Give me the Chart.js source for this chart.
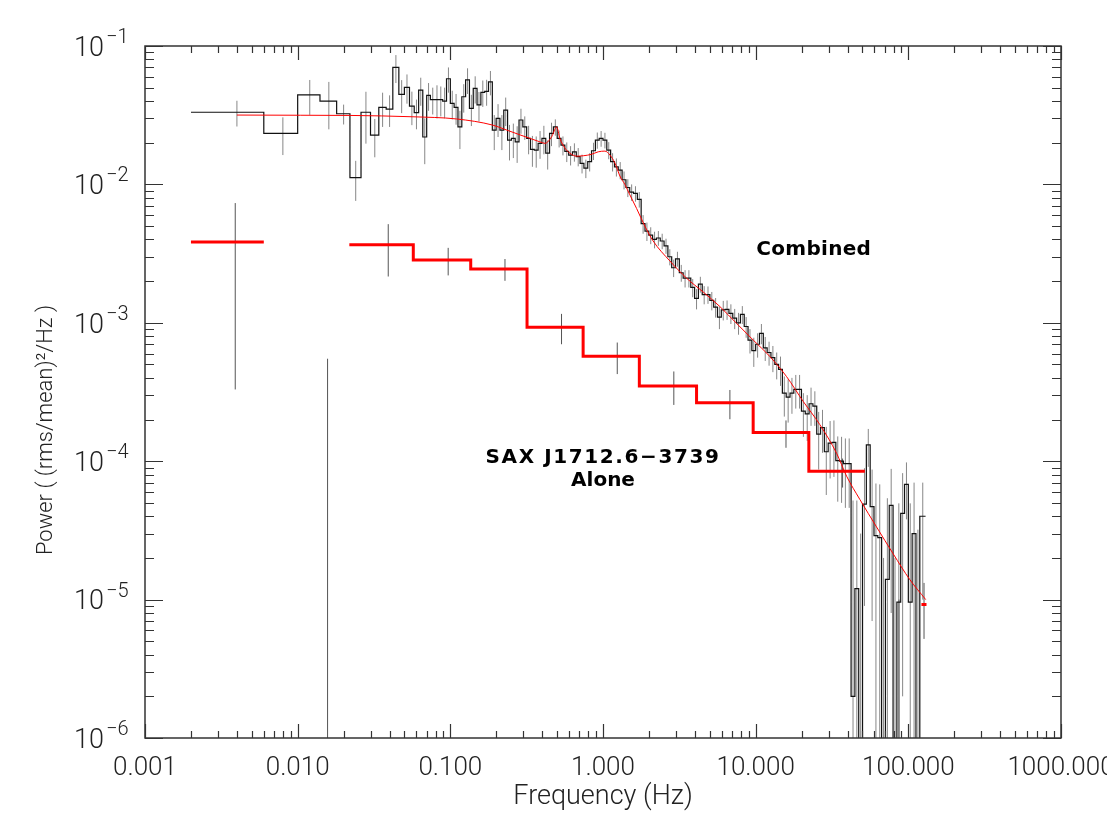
<!DOCTYPE html>
<html>
<head>
<meta charset="utf-8">
<title>SAX J1712.6-3739 power spectrum</title>
<script src="https://cdn.jsdelivr.net/npm/chart.js@4.4.1/dist/chart.umd.min.js"></script>
<style>
  html, body { margin: 0; padding: 0; background: #fff; }
  #chart { display: block; }
</style>
</head>
<body>
<canvas id="chart" width="1107" height="830"></canvas>
<script>
// combined spectrum: 0.004 Hz linear bins up to ~0.08 Hz, log rebinned above
const combinedEdges = [
    0.002, 0.006, 0.010, 0.014, 0.018, 0.022, 0.026, 0.030, 0.034, 0.038,
    0.042, 0.046, 0.050, 0.054, 0.058, 0.062, 0.066, 0.070, 0.074,
    0.0794, 0.0841, 0.0891, 0.0944,
    0.1000, 0.1059, 0.1122, 0.1189, 0.1259, 0.1334, 0.1413, 0.1496, 0.1585, 0.1679,
    0.1778, 0.1884, 0.1995, 0.2113, 0.2239, 0.2371, 0.2512, 0.2661, 0.2818, 0.2985,
    0.3162, 0.3350, 0.3548, 0.3758, 0.3981, 0.4217, 0.4467, 0.4732, 0.5012, 0.5309,
    0.5623, 0.5957, 0.6310, 0.6683, 0.7079, 0.7499, 0.7943, 0.8414, 0.8913, 0.9441,
    1.000, 1.059, 1.122, 1.189, 1.259, 1.334, 1.413, 1.496, 1.585, 1.679,
    1.778, 1.884, 1.995, 2.113, 2.239, 2.371, 2.512, 2.661, 2.818, 2.985,
    3.162, 3.350, 3.548, 3.758, 3.981, 4.217, 4.467, 4.732, 5.012, 5.309,
    5.623, 5.957, 6.310, 6.683, 7.079, 7.499, 7.943, 8.414, 8.913, 9.441,
    10.00, 10.59, 11.22, 11.89, 12.59, 13.34, 14.13, 14.96, 15.85, 16.79,
    17.78, 18.84, 19.95, 21.13, 22.39, 23.71, 25.12, 26.61, 28.18, 29.85,
    31.62, 33.50, 35.48, 37.58, 39.81, 42.17, 44.67, 47.32, 50.12, 53.09,
    56.23, 59.57, 63.10, 66.83, 70.79, 74.99, 79.43, 84.14, 89.13, 94.41,
    100.0, 105.9, 112.2, 118.9, 129.7
];

const combinedPower = [
    // linear bins
    0.0332, 0.0234, 0.0443, 0.040, 0.0324, 0.0112, 0.0332, 0.0227, 0.036, 0.035,
    0.070, 0.0447, 0.0503, 0.0368, 0.033, 0.048, 0.022, 0.044, 0.041,
    // log bins
    0.041, 0.041, 0.040, 0.058, 0.0385, 0.036, 0.026, 0.043, 0.057, 0.0354,
    0.0494, 0.0375, 0.0463, 0.047, 0.055, 0.0247, 0.030, 0.0247, 0.0344, 0.0209,
    0.0215, 0.0203, 0.0292, 0.026, 0.0215, 0.0179, 0.0177, 0.0198, 0.0215, 0.0168,
    0.0234, 0.026, 0.0215, 0.0192, 0.0173, 0.0163, 0.0172, 0.0159, 0.0142, 0.0131,
    0.0146, 0.0175, 0.0209, 0.0215, 0.0209, 0.0177, 0.0146, 0.0134, 0.0127, 0.0108,
    0.0095, 0.0088, 0.0086, 0.0078, 0.0052, 0.0046, 0.0043, 0.0040, 0.0041, 0.0039,
    0.0036, 0.0030, 0.0025, 0.0029, 0.0023, 0.0021, 0.0021, 0.0018, 0.0015, 0.0019,
    0.0016, 0.0016, 0.00145, 0.0013, 0.0011, 0.00124, 0.00125, 0.00117, 0.00108, 0.0010,
    0.00115, 0.00094, 0.00075, 0.00063, 0.00070, 0.00084, 0.00066, 0.00061, 0.00056, 0.00050,
    0.00046, 0.00031, 0.00029, 0.00031, 0.00033, 0.00033, 0.00023, 0.00022, 0.00026, 0.00025,
    0.000157, 0.000175, 0.000117, 0.000135, 0.000137, 0.000101, 0.000100, 0.000096, 0.000096, 0.000002,
    0.000012, -0.00002, 0.000049, 0.000131, 0.000047, 0.000029, 0.000028, -0.00003, 0.000014, 0.000048,
    -0.00002, 0.0000096, 0.000042, 0.000068, 0.0000096, 0.00003, -0.000008, 0.00004
];

const combinedSigma = [
    0.007, 0.0071, 0.0125, 0.015, 0.0053, 0.0036, 0.0135, 0.007, 0.010, 0.009,
    0.016, 0.012, 0.012, 0.010, 0.008, 0.011, 0.008, 0.010, 0.009,
    0.011, 0.010, 0.010, 0.012, 0.009, 0.009, 0.008, 0.010, 0.012, 0.009,
    0.011, 0.009, 0.010, 0.010, 0.011, 0.007, 0.008, 0.007, 0.008, 0.006,
    0.006, 0.006, 0.006, 0.005, 0.005, 0.0045, 0.0045, 0.0045, 0.005, 0.004,
    0.0045, 0.0035, 0.003, 0.003, 0.0028, 0.0026, 0.0026, 0.0024, 0.0022, 0.002,
    0.0022, 0.0025, 0.0028, 0.0028, 0.0027, 0.0025, 0.0022, 0.002, 0.0018, 0.0016,
    0.0014, 0.0012, 0.0011, 0.001, 0.0008, 0.0007, 0.0006, 0.00055, 0.0005, 0.0005,
    0.00045, 0.0004, 0.00036, 0.00036, 0.00032, 0.0003, 0.0003, 0.00027, 0.00025, 0.00025,
    0.00024, 0.00023, 0.00022, 0.00021, 0.0002, 0.0002, 0.0002, 0.00019, 0.00018, 0.00018,
    0.00017, 0.00016, 0.00015, 0.00015, 0.00014, 0.00014, 0.00013, 0.00012, 0.00012, 0.00011,
    0.00011, 0.0001, 0.0001, 0.00009, 0.00009, 0.00009, 0.00008, 0.00008, 0.00008, 0.00007,
    0.00007, 0.00006, 0.00006, 0.00006, 0.00006, 0.00005, 0.00005, 0.00005, 0.00005, 0.00005,
    0.00004, 0.00005, 0.00004, 0.00004, 0.00004, 0.00004, 0.00004, 0.00005, 0.00004, 0.00004,
    0.00004, 0.00004, 0.00004, 0.00003, 0.00004, 0.00004, 0.00004, 0.00003
];

// SAX J1712.6-3739 alone (thick red histogram)
const aloneEdges = [0.002, 0.006, 0.0218, 0.0572, 0.136, 0.318, 0.741, 1.73, 4.10, 9.63, 22.3, 51.9, 121.9, 131.5];
const alonePower = [0.00383, -0.0021, 0.00366, 0.00284, 0.00245, 0.00093, 0.000573, 0.00035, 0.000264, 0.000161, 0.0000845, -0.00002, 0.0000092];
const aloneSigma = [0.0035, 0.00265, 0.0015, 0.00064, 0.00044, 0.00023, 0.000147, 0.000095, 0.000063, 0.000036, 0.00002, 0.00003, 0.000004];
const aloneErrFreq = [0.0039, 0.0157, 0.0392, 0.0968, 0.228, 0.535, 1.24, 2.91, 6.78, 15.8, 37.1, 86.9, 126.7];

// fitted model (thin red curve)
const modelFreq = [
    0.004, 0.0104, 0.022, 0.0569, 0.110, 0.190, 0.234, 0.286, 0.332, 0.386,
    0.417, 0.461, 0.497, 0.522, 0.563, 0.607, 0.671, 0.742, 0.841, 0.931,
    1.03, 1.11, 1.20, 1.29, 1.39, 1.50, 1.66, 1.88, 2.13, 2.74,
    3.53, 4.53, 5.83, 7.50, 9.64, 12.4, 15.9, 20.5, 26.3, 33.9,
    39.4, 48.1, 61.9, 79.6, 102, 130
];
const modelPower = [
    0.0317, 0.0316, 0.0315, 0.0308, 0.0297, 0.0268, 0.0247, 0.0228, 0.0215, 0.0203,
    0.0198, 0.0221, 0.0260, 0.0215, 0.0183, 0.0168, 0.0160, 0.0161, 0.0165, 0.0172,
    0.0174, 0.0163, 0.0142, 0.0115, 0.0100, 0.0084, 0.0067, 0.0050, 0.0039, 0.0028,
    0.0021, 0.00167, 0.00131, 0.00099, 0.00075, 0.00057, 0.00041, 0.00027, 0.000184, 0.000114,
    0.000078, 0.000053, 0.0000335, 0.0000214, 0.000014, 0.0000100
];

const xTickValues = [0.001, 0.01, 0.1, 1, 10, 100, 1000];
const xTickLabels = ["0.001", "0.010", "0.100", "1.000", "10.000", "100.000", "1000.000"];
const yTickValues = [1e-1, 1e-2, 1e-3, 1e-4, 1e-5, 1e-6];
const yTickExponents = ["\u22121", "\u22122", "\u22123", "\u22124", "\u22125", "\u22126"];
const minorSteps = [2, 3, 4, 5, 6, 7, 8, 9];

const notes = [
    { text: "Combined", f: 24.0, p: 0.0034, spacing: '0.3px' },
    { text: "SAX J1712.6\u22123739", f: 1.0, p: 1.07e-4, spacing: '1.6px' },
    { text: "Alone", f: 1.0, p: 7.4e-5, spacing: '0px' }
];

// points below zero are pushed off the bottom of the log axis
const OFF_AXIS = 1e-9;
const labelFont = '300 26px Roboto';

function stepPoints(edges, power, floor) {
    const pts = [];
    power.forEach((p, i) => {
        const y = p > 0 ? p : floor;
        pts.push({ x: edges[i], y: y }, { x: edges[i + 1], y: y });
    });
    return pts;
}

function errorBarPoints(freqs, power, sigma) {
    const pts = [];
    freqs.forEach((f, i) => {
        const hi = power[i] + sigma[i];
        if (hi <= 0) return;
        const lo = power[i] - sigma[i];
        pts.push({ x: f, y: lo > 0 ? lo : OFF_AXIS }, { x: f, y: hi }, { x: f, y: null });
    });
    return pts;
}

const combinedCenters = combinedPower.map((_, i) => (combinedEdges[i] + combinedEdges[i + 1]) / 2);
const modelPoints = modelFreq.map((f, i) => ({ x: f, y: modelPower[i] }));

const idlFrame = {
    id: 'idlFrame',
    afterDatasetsDraw(chart) {
        const { ctx, chartArea: a, scales: { x, y } } = chart;
        ctx.save();
        ctx.strokeStyle = '#333';
        ctx.lineWidth = 1.5;
        ctx.strokeRect(a.left, a.top, a.right - a.left, a.bottom - a.top);

        // inward ticks on all four sides
        ctx.lineWidth = 1.2;
        ctx.beginPath();
        xTickValues.forEach(dec => {
            [1, ...minorSteps].forEach(m => {
                const v = dec * m;
                if (v > x.max * 1.0001) return;
                const px = Math.round(x.getPixelForValue(v)) + 0.5;
                const len = m === 1 ? 14 : 7;
                ctx.moveTo(px, a.bottom); ctx.lineTo(px, a.bottom - len);
                ctx.moveTo(px, a.top); ctx.lineTo(px, a.top + len);
            });
        });
        yTickValues.forEach(dec => {
            [1, ...minorSteps].forEach(m => {
                const v = dec * m;
                if (v > y.max * 1.0001) return;
                const py = Math.round(y.getPixelForValue(v)) + 0.5;
                const len = m === 1 ? 18 : 9;
                ctx.moveTo(a.left, py); ctx.lineTo(a.left + len, py);
                ctx.moveTo(a.right, py); ctx.lineTo(a.right - len, py);
            });
        });
        ctx.stroke();
        ctx.restore();
    },
    afterDraw(chart) {
        const { ctx, chartArea: a, scales: { x, y } } = chart;
        ctx.save();
        ctx.fillStyle = '#222';

        // x tick labels
        ctx.font = labelFont;
        ctx.textAlign = 'center';
        ctx.textBaseline = 'middle';
        xTickValues.forEach((v, i) => {
            ctx.fillText(xTickLabels[i], x.getPixelForValue(v), a.bottom + 30);
        });

        // y tick labels: 10 with a raised exponent
        yTickValues.forEach((v, i) => {
            const py = y.getPixelForValue(v);
            ctx.font = '300 27px Roboto';
            ctx.textAlign = 'right';
            ctx.fillText("10", a.left - 41, py + 3);
            ctx.font = '300 20px Roboto';
            ctx.textAlign = 'left';
            ctx.fillText(yTickExponents[i], a.left - 39, py - 8);
        });

        // axis titles
        ctx.font = '300 27px Roboto';
        ctx.textAlign = 'center';
        ctx.fillText("Frequency (Hz)", (a.left + a.right) / 2, a.bottom + 59);
        ctx.save();
        ctx.font = '300 22px Roboto';
        ctx.translate(a.left - 99, (a.top + a.bottom) / 2 + 38);
        ctx.rotate(-Math.PI / 2);
        ctx.fillText("Power ( (rms/mean)\u00b2/Hz )", 0, 0);
        ctx.restore();

        // annotations
        ctx.fillStyle = '#000';
        ctx.font = 'bold 20px "DejaVu Sans"';
        notes.forEach(n => {
            ctx.letterSpacing = n.spacing;
            ctx.fillText(n.text, x.getPixelForValue(n.f), y.getPixelForValue(n.p) + 1);
        });
        ctx.letterSpacing = '0px';
        ctx.restore();
    }
};

const common = { showLine: true, pointRadius: 0, pointHitRadius: 0, spanGaps: false, fill: false, clip: 0 };

new Chart(document.getElementById('chart'), {
    type: 'scatter',
    data: {
        datasets: [
            { ...common, label: 'Model', data: modelPoints, borderColor: '#ff0000', borderWidth: 1,
              cubicInterpolationMode: 'monotone', order: 0 },
            { ...common, label: 'SAX J1712.6-3739 alone', data: stepPoints(aloneEdges, alonePower, null),
              borderColor: '#ff0000', borderWidth: 3, borderJoinStyle: 'miter', order: 1 },
            { ...common, label: 'Combined', data: stepPoints(combinedEdges, combinedPower, OFF_AXIS),
              borderColor: '#111', borderWidth: 1.2, borderJoinStyle: 'miter', order: 2 },
            { ...common, label: 'Combined errors', data: errorBarPoints(combinedCenters, combinedPower, combinedSigma),
              borderColor: 'rgba(95,95,95,0.75)', borderWidth: 1, order: 3 },
            { ...common, label: 'Alone errors', data: errorBarPoints(aloneErrFreq, alonePower, aloneSigma),
              borderColor: '#555', borderWidth: 1, order: 4 }
        ]
    },
    options: {
        responsive: false,
        animation: false,
        devicePixelRatio: 1,
        events: [],
        layout: { padding: { left: 145, right: 46, top: 46, bottom: 92 } },
        plugins: { legend: { display: false }, tooltip: { enabled: false } },
        scales: {
            x: { type: 'logarithmic', min: 0.001, max: 1000, display: false },
            y: { type: 'logarithmic', min: 1e-6, max: 0.1, display: false }
        }
    },
    plugins: [idlFrame]
});
</script>
</body>
</html>
